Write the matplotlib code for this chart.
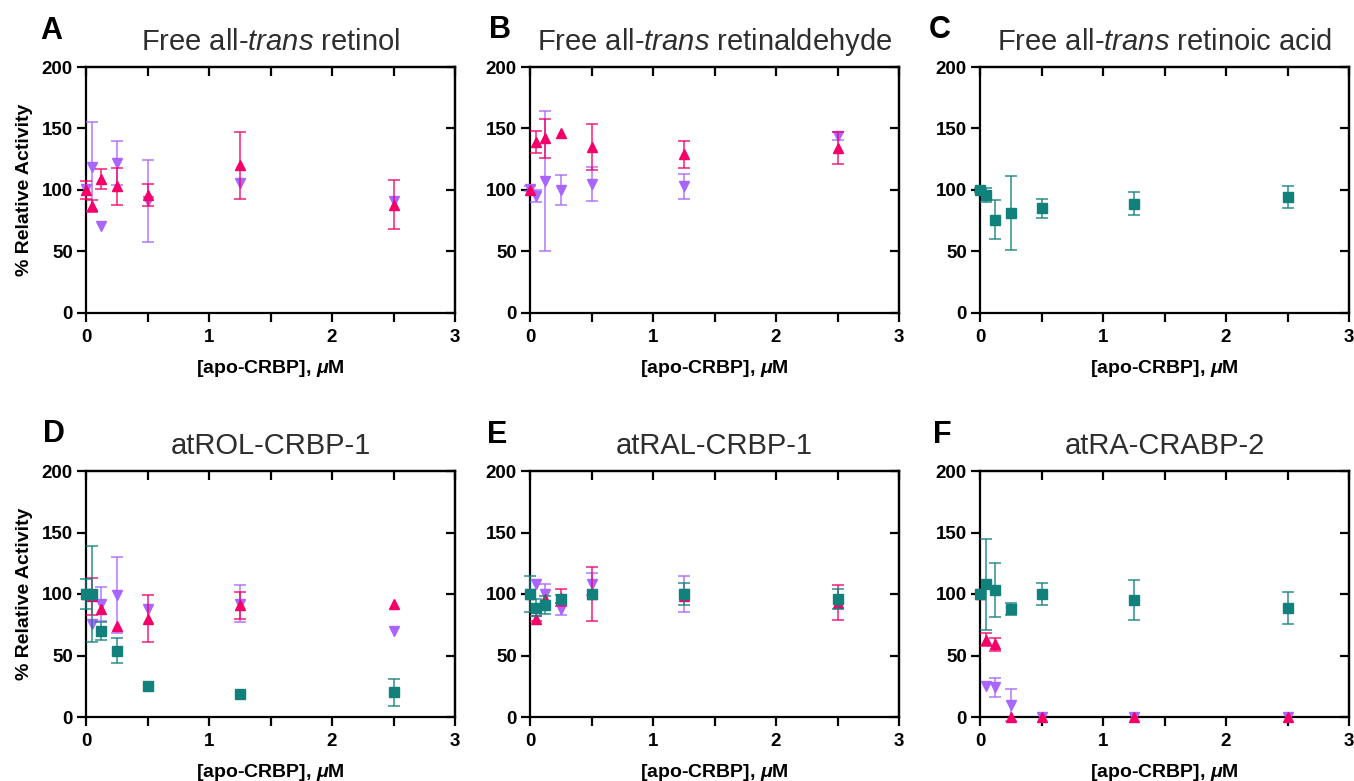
import numpy as np
import matplotlib
matplotlib.use("Agg")
import matplotlib.pyplot as plt
from matplotlib.ticker import MultipleLocator

plt.rcParams["font.family"] = ["Liberation Sans", "DejaVu Sans"]
plt.rcParams["mathtext.fontset"] = "custom"
plt.rcParams["mathtext.rm"] = "Liberation Sans"
plt.rcParams["mathtext.it"] = "Liberation Sans:italic"
plt.rcParams["mathtext.bf"] = "Liberation Sans:bold"
plt.rcParams["mathtext.bfit"] = "Liberation Sans:bold:italic"

nan = np.nan

# apo-CRBP concentrations (uM)
conc = [0, 0.05, 0.125, 0.25, 0.5, 1.25, 2.5]

titles = [
    r"Free all-$\mathit{trans}$ retinol",
    r"Free all-$\mathit{trans}$ retinaldehyde",
    r"Free all-$\mathit{trans}$ retinoic acid",
    "atROL-CRBP-1",
    "atRAL-CRBP-1",
    "atRA-CRABP-2",
]
letters = ["A", "B", "C", "D", "E", "F"]

# pink up-triangles
up_vals = [
    [100, 87, 109, 103, 96, 120, 88],
    [100, 139, 142, 146, 135, 129, 134],
    None,
    [100, 98, 88, 74, 80, 91, 92],
    [100, 80, 96, 97, 100, 98, 93],
    [100, 63, 59, 0, 0, 0, 0],
]
up_err = [
    [7, 5, 8, 15, 9, 27, 20],
    [nan, 9, 16, nan, 19, 11, 13],
    None,
    [nan, 15, nan, nan, 19, 11, nan],
    [nan, 2, nan, 7, 22, nan, 14],
    [nan, 5, 5, nan, nan, nan, nan],
]

# purple down-triangles
down_vals = [
    [101, 119, 71, 122, 91, 106, 91],
    [101, 95, 107, 100, 105, 103, 144],
    None,
    [100, 76, 92, 99, 88, 92, 70],
    [100, 108, 100, 88, 108, 100, 95],
    [100, 25, 24, 10, 0, 0, 0],
]
down_err = [
    [nan, 36, nan, 18, 33, nan, nan],
    [2, 5, 57, 12, 14, 10, 3],
    None,
    [nan, nan, 14, 31, nan, 15, nan],
    [nan, nan, 8, 5, 9, 15, nan],
    [nan, nan, 8, 13, nan, nan, nan],
]

# teal squares
sq_vals = [
    None,
    None,
    [100, 96, 76, 81, 85, 89, 94],
    [100, 100, 70, 54, 25, 19, 20],
    [100, 89, 91, 96, 100, 100, 96],
    [100, 108, 103, 88, 100, 95, 89],
]
sq_err = [
    None,
    None,
    [2, 6, 16, 30, 8, 9, 9],
    [12, 39, 7, 10, nan, nan, 11],
    [15, 7, 7, 3, nan, 9, 8],
    [nan, 37, 22, 5, 9, 16, 13],
]

PINK = "#F50069"
PURPLE = "#A866FF"
TEAL = "#12807B"

W, H = 1354, 781
fig = plt.figure(figsize=(W / 100, H / 100), dpi=100)

lefts = [86, 530, 980]
tops = [67, 471]
ax_w, ax_h = 369, 246
letter_pos = [(40, 39), (489, 38), (929, 38), (43, 442), (487, 443), (933, 443)]


def draw_series(ax, vals, err, color, marker, ms, z):
    if vals is None:
        return
    ax.errorbar(conc, vals, yerr=err, fmt="none", ecolor=color, alpha=0.75,
                elinewidth=1.3, capsize=4, capthick=1.3, zorder=z, clip_on=False)
    ax.plot(conc, vals, linestyle="none", marker=marker, ms=ms, color=color,
            mec=color, zorder=z + 0.5, clip_on=False)


for i in range(6):
    r, c = divmod(i, 3)
    left = lefts[c] / W
    bottom = 1 - (tops[r] + ax_h) / H
    ax = fig.add_axes([left, bottom, ax_w / W, ax_h / H])

    draw_series(ax, down_vals[i], down_err[i], PURPLE, "v", 7, 3)
    draw_series(ax, up_vals[i], up_err[i], PINK, "^", 7, 4)
    draw_series(ax, sq_vals[i], sq_err[i], TEAL, "s", 7.5, 5)

    ax.set_xlim(0, 3)
    ax.set_ylim(0, 200)
    ax.xaxis.set_major_locator(MultipleLocator(1))
    ax.xaxis.set_minor_locator(MultipleLocator(0.5))
    ax.yaxis.set_major_locator(MultipleLocator(50))
    for s in ax.spines.values():
        s.set_linewidth(1.6)
    ax.tick_params(which="both", direction="out", length=6.5, width=1.6,
                   labelsize=13.5)
    ax.tick_params(axis="x", pad=5)
    ax.tick_params(axis="y", pad=3)
    for lab in ax.get_xticklabels() + ax.get_yticklabels():
        lab.set_fontweight("bold")

    top = ax.secondary_xaxis("top")
    top.xaxis.set_major_locator(MultipleLocator(0.5))
    top.tick_params(direction="in", length=6.5, width=1.6, labeltop=False)
    right = ax.secondary_yaxis("right")
    right.yaxis.set_major_locator(MultipleLocator(50))
    right.tick_params(direction="in", length=6.5, width=1.6, labelright=False)
    for s in list(top.spines.values()) + list(right.spines.values()):
        s.set_linewidth(1.6)

    ax.set_title(titles[i], fontsize=21, color="#2e2e2e", pad=12)
    ax.set_xlabel(r"[apo-CRBP], $\mathbfit{\mu}$M", fontsize=14,
                  fontweight="bold", labelpad=9)
    if c == 0:
        ax.set_ylabel("% Relative Activity", fontsize=14, fontweight="bold",
                      labelpad=6)

    lx, ly = letter_pos[i]
    fig.text(lx / W, 1 - ly / H, letters[i], fontsize=22, fontweight="bold",
             va="baseline", ha="left")

fig.savefig("out.png", dpi=100)
